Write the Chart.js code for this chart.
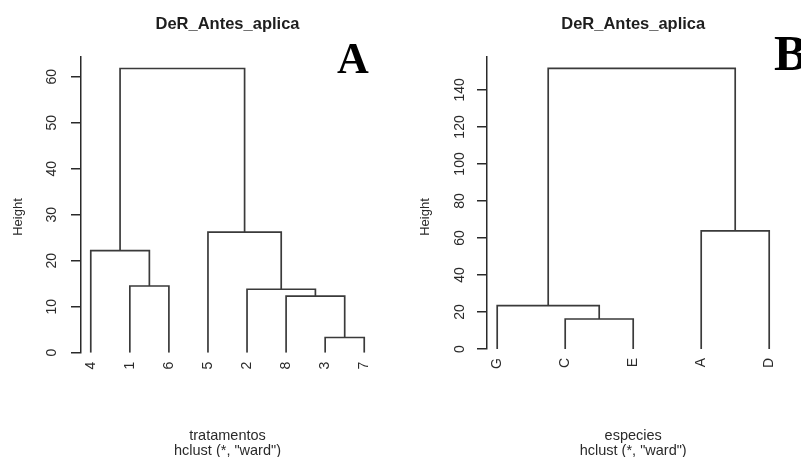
<!DOCTYPE html>
<html>
<head>
<meta charset="utf-8">
<script src="https://cdn.jsdelivr.net/npm/chart.js@4.4.0/dist/chart.umd.min.js"></script>
<style>
  body { margin: 0; background: #fff; }
  .panel { position: absolute; top: 0; height: 457px; }
</style>
</head>
<body>
<div class="panel" style="left:0;width:400px"><canvas id="chartA" width="400" height="457"></canvas></div>
<div class="panel" style="left:400px;width:401px"><canvas id="chartB" width="401" height="457"></canvas></div>
<script>
// panel A: leaves in plotted order, merges (R style: negative = leaf, positive = earlier merge)
const leavesA = ['4', '1', '6', '5', '2', '8', '3', '7'];
const mergeA = [[-7, -8], [-6, 1], [-5, 2], [-2, -3], [-1, 4], [-4, 3], [5, 6]];
const heightsA = [3.3, 12.3, 13.8, 14.5, 22.2, 26.2, 61.8];
const ticksA = [0, 10, 20, 30, 40, 50, 60];

// panel B
const leavesB = ['G', 'C', 'E', 'A', 'D'];
const mergeB = [[-2, -3], [-1, 1], [-4, -5], [2, 3]];
const heightsB = [16.2, 23.4, 63.8, 151.7];
const ticksB = [0, 20, 40, 60, 80, 100, 120, 140];

const ink = '#2a2a2a';
const sans = "'Liberation Sans', Arial, sans-serif";

// one U-shaped line per merge
const buildSegments = (merge, heights) => {
  const pos = [];
  const node = id => id < 0 ? { x: -id, y: 0 } : pos[id - 1];
  return merge.map((m, i) => {
    const a = node(m[0]), b = node(m[1]), h = heights[i];
    pos.push({ x: (a.x + b.x) / 2, y: h });
    return {
      data: [{ x: a.x, y: a.y }, { x: a.x, y: h }, { x: b.x, y: h }, { x: b.x, y: b.y }],
      showLine: true,
      borderColor: '#3a3a3a',
      borderWidth: 1.7,
      pointRadius: 0,
      tension: 0
    };
  });
};

const textPlugin = {
  id: 'dendroText',
  afterDraw(chart) {
    const c = chart.ctx, o = chart.options.plugins.dendroText;
    const area = chart.chartArea, y = chart.scales.y;
    const mid = (area.left + area.right) / 2;
    c.save();
    c.fillStyle = ink;
    c.textAlign = 'center';
    c.textBaseline = 'middle';
    // y tick labels, rotated like R
    c.font = '14px ' + sans;
    y.ticks.forEach(t => {
      c.save();
      c.translate(o.tickX, y.getPixelForValue(t.value));
      c.rotate(-Math.PI / 2);
      c.fillText(String(t.value), 0, 0);
      c.restore();
    });
    c.font = '13px ' + sans;
    c.save();
    c.translate(o.heightX, 217);
    c.rotate(-Math.PI / 2);
    c.fillText('Height', 0, 0);
    c.restore();
    c.font = 'bold 16.5px ' + sans;
    c.fillStyle = '#1e1e1e';
    c.fillText('DeR_Antes_aplica', mid, 24);
    c.font = '14.5px ' + sans;
    c.fillStyle = ink;
    c.fillText(o.xTitle, mid, 436);
    c.fillText('hclust (*, "ward")', mid, 451);
    c.font = 'bold ' + o.letterSize + 'px "Liberation Serif", "Times New Roman", serif';
    c.fillStyle = '#000';
    c.textAlign = 'left';
    c.textBaseline = 'alphabetic';
    c.fillText(o.letter, o.letterX, o.letterY);
    c.restore();
  }
};

const makeChart = (id, leaves, merge, heights, ticks, p) => new Chart(document.getElementById(id), {
  type: 'scatter',
  data: { datasets: buildSegments(merge, heights) },
  plugins: [textPlugin],
  options: {
    responsive: false,
    animation: false,
    layout: { padding: { left: 0, top: 57, right: p.rightPad, bottom: 0 } },
    plugins: {
      legend: { display: false },
      tooltip: { enabled: false },
      dendroText: p.text
    },
    scales: {
      x: {
        type: 'linear',
        min: p.xMin,
        max: p.xMax,
        grid: { display: false, drawTicks: false },
        border: { display: false },
        afterBuildTicks: s => { s.ticks = leaves.map((_, i) => ({ value: i + 1 })); },
        afterFit: s => { s.height = p.bottom; },
        ticks: {
          autoSkip: false,
          minRotation: 90,
          maxRotation: 90,
          padding: 9,
          color: ink,
          font: { family: sans, size: 14 },
          callback: v => leaves[v - 1]
        }
      },
      y: {
        min: 0,
        max: p.yMax,
        afterBuildTicks: s => { s.ticks = ticks.map(v => ({ value: v })); },
        afterFit: s => { s.width = p.axisX; },
        ticks: { display: false },
        grid: { drawOnChartArea: false, drawTicks: true, tickLength: 10, color: ink, lineWidth: 1.5 },
        border: { display: true, color: ink, width: 1.5 }
      }
    }
  }
});

makeChart('chartA', leavesA, mergeA, heightsA, ticksA, {
  axisX: 81, rightPad: 26, bottom: 104.3, xMin: 0.75, xMax: 8.25, yMax: 64.3,
  text: { tickX: 52, heightX: 18, xTitle: 'tratamentos', letter: 'A', letterX: 337, letterY: 73, letterSize: 44 }
});

makeChart('chartB', leavesB, mergeB, heightsB, ticksB, {
  axisX: 87, rightPad: 21.6, bottom: 108, xMin: 0.85, xMax: 5.15, yMax: 157.8,
  text: { tickX: 60, heightX: 25, xTitle: 'especies', letter: 'B', letterX: 374, letterY: 70, letterSize: 50 }
});
</script>
</body>
</html>
